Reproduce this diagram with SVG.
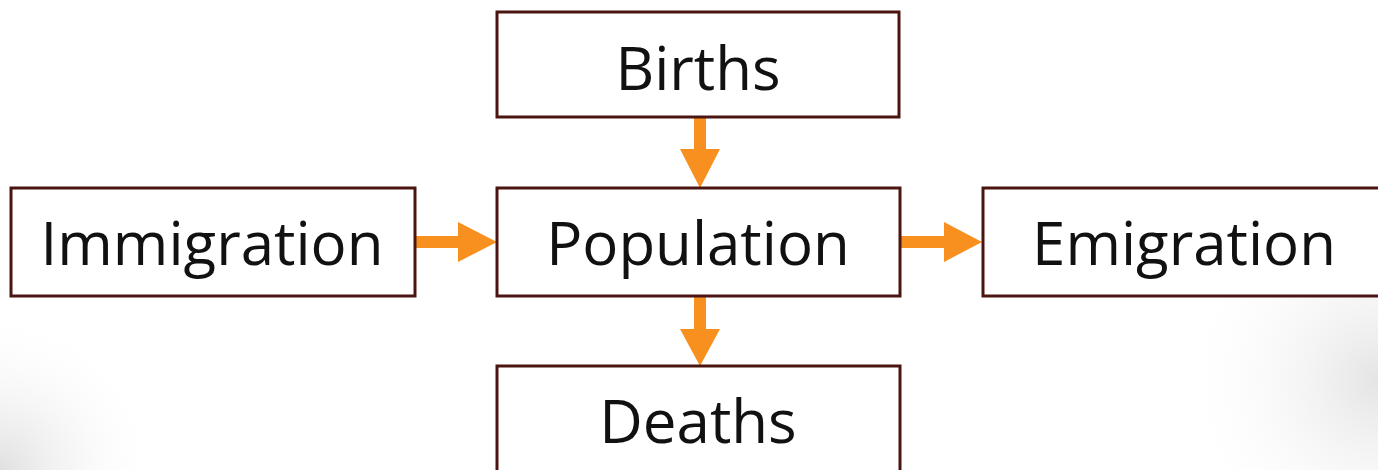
<svg xmlns="http://www.w3.org/2000/svg" width="1378" height="470" viewBox="0 0 1378 470">
<defs>
<style>
.box{fill:#ffffff;stroke:#4a1510;stroke-width:3}
.lbl{font-family:"Open Sans","Liberation Sans",sans-serif;font-size:60px;fill:#111;text-anchor:middle}
.arr{fill:#f7901e}
</style>
<radialGradient id="bl" gradientUnits="userSpaceOnUse" cx="0" cy="470" r="160">
<stop offset="0" stop-color="#e0e0e0"/>
<stop offset="1" stop-color="#ffffff" stop-opacity="0"/>
</radialGradient>
<radialGradient id="rt" gradientUnits="userSpaceOnUse" cx="1378" cy="380" r="200">
<stop offset="0" stop-color="#e4e4e4"/>
<stop offset="1" stop-color="#ffffff" stop-opacity="0"/>
</radialGradient>
</defs>
<rect x="0" y="0" width="1378" height="470" fill="#ffffff"/>
<rect x="0" y="0" width="1378" height="470" fill="url(#bl)"/>
<rect x="0" y="0" width="1378" height="470" fill="url(#rt)"/>
<g id="connectors">
<polygon class="arr" points="694,117 706,117 706,149 720,149 700,188 680,149 694,149"/>
<polygon class="arr" points="694,296 706,296 706,329 720,329 700,366 680,329 694,329"/>
<polygon class="arr" points="416,236 416,248 458,248 458,262 497,242 458,222 458,236"/>
<polygon class="arr" points="900,236 900,248 944,248 944,262 982,242 944,222 944,236"/>
</g>
<g id="births"><rect class="box" x="497" y="12" width="402" height="105"/><text class="lbl" x="698" y="90">Births</text></g>
<g id="population"><rect class="box" x="497" y="188" width="403" height="108"/><text class="lbl" x="698" y="265">Population</text></g>
<g id="immigration"><rect class="box" x="11" y="188" width="404" height="108"/><text class="lbl" x="212" y="265">Immigration</text></g>
<g id="emigration"><rect class="box" x="983" y="188" width="410" height="108"/><text class="lbl" x="1184" y="265">Emigration</text></g>
<g id="deaths"><rect class="box" x="497" y="366" width="403" height="120"/><text class="lbl" x="698" y="443">Deaths</text></g>
</svg>
